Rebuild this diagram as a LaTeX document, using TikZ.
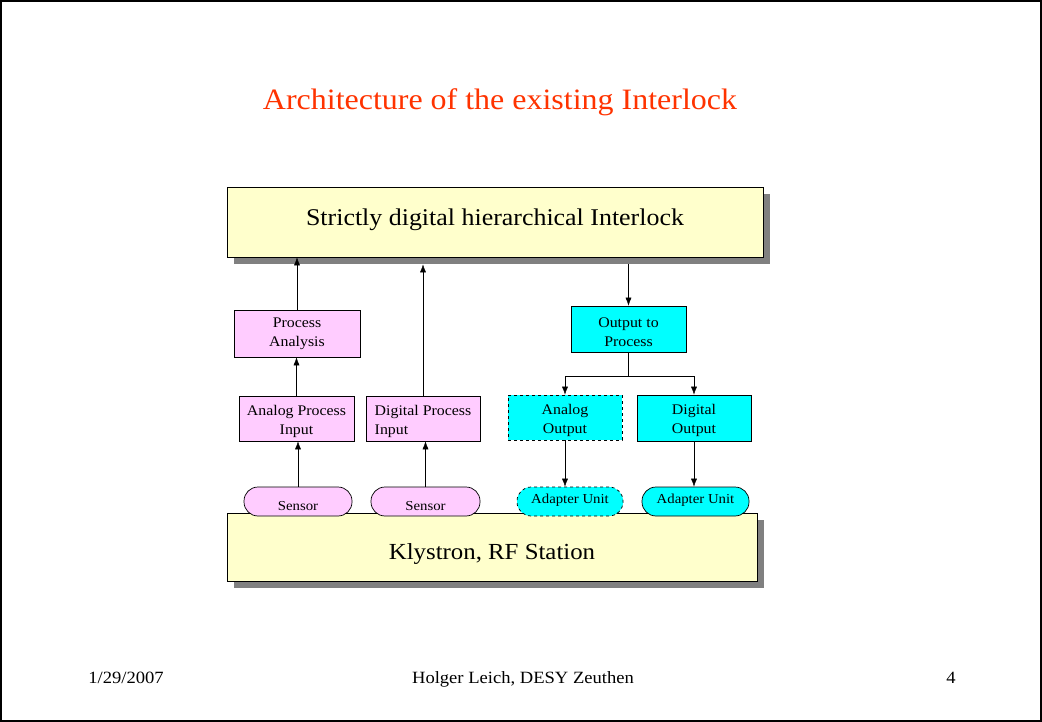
\documentclass[tikz,border=0pt]{standalone}
\usepackage{fontspec}
\setmainfont{Liberation Serif}[FakeStretch=1.08]
\usetikzlibrary{positioning,shadows,arrows.meta}
\definecolor{paleyellow}{HTML}{FFFFCC}
\definecolor{palepink}{HTML}{FFCCFF}
\definecolor{brightcyan}{HTML}{00FFFF}
\definecolor{titlered}{HTML}{FF3300}
\definecolor{shadowgray}{HTML}{808080}
% two lines of box text, lowered a little
\newcommand{\boxtext}[3][c]{\raisebox{-2.5pt}[\height][\depth]{\begin{tabular}{@{}#1@{}}#2\\#3\end{tabular}}}

\begin{document}
\begin{tikzpicture}[x=1pt,y=-1pt,
		>={Latex[length=8pt,width=6pt]},
		bigbox/.style={draw, fill=paleyellow, line width=0.8pt, inner sep=0pt,
			drop shadow={shadow xshift=7pt, shadow yshift=-7pt, fill=shadowgray, opacity=1},
			font=\fontsize{24}{28}\selectfont},
		inbox/.style={draw, fill=palepink, line width=0.7pt, inner sep=0pt,
			minimum width=115pt, minimum height=45pt,
			font=\fontsize{14.7}{19}\selectfont},
		outbox/.style={inbox, fill=brightcyan},
		pill/.style={draw, line width=0.7pt, rounded corners=14pt, inner sep=0pt,
			minimum height=29pt, font=\fontsize{13.7}{16}\selectfont},
		foot/.style={anchor=base, font=\fontsize{17.2}{20}\selectfont}]
	\useasboundingbox (0,0) rectangle (1042,722);
	\draw[line width=1.6pt] (1,1) rectangle (1041,721);

	\node[text=titlered, font=\fontsize{29.6}{34}\selectfont] (title) at (500,102) {Architecture of the existing Interlock};

	\node[bigbox, minimum width=536pt, minimum height=70pt] (il) at (495,222) {\raisebox{2pt}[\height][\depth]{Strictly digital hierarchical Interlock}};
	\node[bigbox, minimum width=530pt, minimum height=68pt, font=\fontsize{23}{27}\selectfont] (rf) at (492,547) {\raisebox{-7pt}[\height][\depth]{Klystron, RF Station}};

	\node[inbox, minimum width=126pt, minimum height=47pt] (pa) at (297,333.5) {\raisebox{3pt}[\height][\depth]{\boxtext{Process}{Analysis}}};
	\node[inbox] (api) at (296.5,418.5) {\boxtext{Analog Process}{Input}};
	\node[inbox, minimum width=114pt] (dpi) at (423,418.5) {\boxtext[l]{Digital Process}{Input}};
	\node[outbox, minimum height=46pt] (otp) at (628.5,329) {\raisebox{-2pt}[\height][\depth]{\boxtext{Output to}{Process}}};
	\node[outbox, minimum width=114pt, dashed] (ao) at (565,417.5) {\boxtext{Analog}{Output}};
	\node[outbox, minimum width=114pt, minimum height=46pt] (do) at (694,418) {\boxtext{Digital}{Output}};

	\node[pill, fill=palepink, minimum width=108pt] (s1) at (298,501.5) {\raisebox{-5pt}[\height][\depth]{Sensor}};
	\node[pill, fill=palepink, minimum width=109pt] (s2) at (425.5,501.5) {\raisebox{-5pt}[\height][\depth]{Sensor}};
	\node[pill, fill=brightcyan, minimum width=106pt, dashed] (au1) at (570,501.5) {\raisebox{1.5pt}[\height][\depth]{Adapter Unit}};
	\node[pill, fill=brightcyan, minimum width=107pt] (au2) at (695.5,501.5) {\raisebox{1.5pt}[\height][\depth]{Adapter Unit}};

	\draw[->] (s1.north) -- (s1.north |- api.south);
	\draw[->] (s2.north) -- (s2.north |- dpi.south);
	\draw[->] (api.north) -- (api.north |- pa.south);
	\draw[->] (pa.north) -- (pa.north |- il.south);
	\draw[->] (dpi.north) -- ([yshift=-7pt]il.south -| dpi.north);
	\draw[->] ([yshift=-7pt]il.south -| otp.north) -- (otp.north);
	\draw (otp.south) -- ++(0,24) coordinate (br);
	\draw[->] (br) -| (ao.north);
	\draw[->] (br) -| (do.north);
	\draw[->] (ao.south) -- (ao.south |- au1.north);
	\draw[->] (do.south) -- (do.south |- au2.north);

	\node[foot] (date) at (126,683) {1/29/2007};
	\node[foot] (author) at (523,683) {Holger Leich, DESY Zeuthen};
	\node[foot] (page) at (951,683) {4};
\end{tikzpicture}
\end{document}
